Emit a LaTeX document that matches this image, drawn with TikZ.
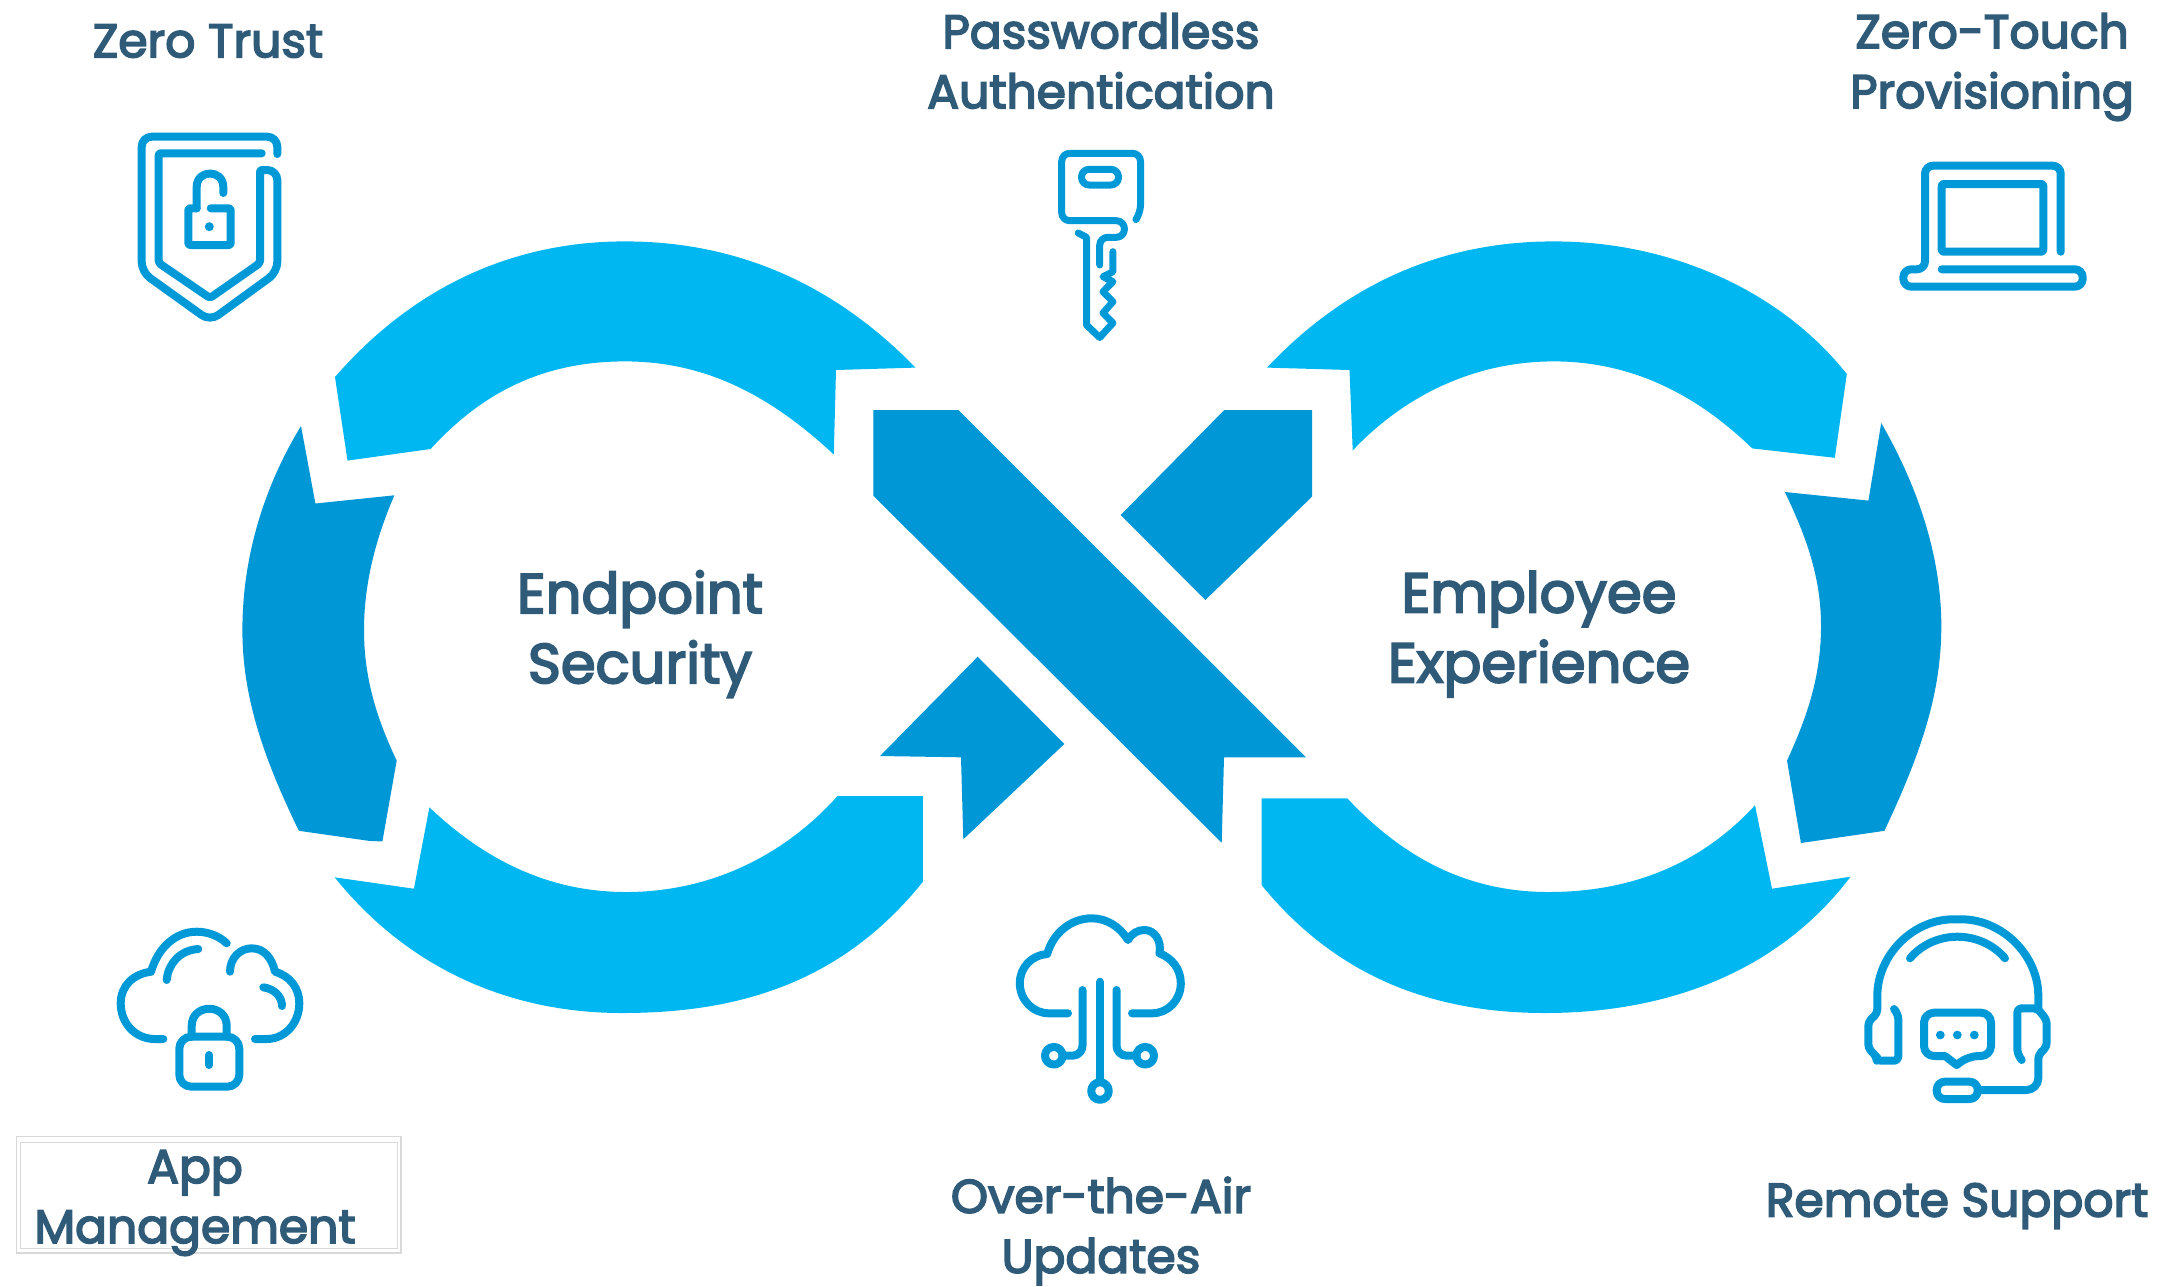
\documentclass[tikz,border=0pt]{standalone}
\usepackage{fontspec}
\setmainfont{Poppins}[FakeBold=3.5]
\definecolor{ringlight}{HTML}{00B7F1}
\definecolor{ringdark}{HTML}{0097D7}
\definecolor{iconblue}{HTML}{0099D8}
\definecolor{labelblue}{HTML}{2F5B78}
\begin{document}
\begin{tikzpicture}[x=0.5pt,y=-0.5pt,
        lightband/.style={fill=ringlight},
        darkband/.style={fill=ringdark},
        icon/.style={draw=iconblue, line width=4pt, line cap=round, line join=round},
        caption/.style={text=labelblue, align=center, inner sep=0pt, font=\fontsize{23.6pt}{30pt}\selectfont},
        heading/.style={text=labelblue, align=center, inner sep=0pt, font=\fontsize{28pt}{35pt}\selectfont}
        ]
    \useasboundingbox (0,0) rectangle (2161,1286);

    % left loop
    \path[lightband] (335,377) .. controls (415,285) and (515,241.4) .. (625,241.4)
        .. controls (745,241.4) and (840,290) .. (915.5,367.6)
        -- (836,370) -- (833.8,454.5)
        .. controls (770,395) and (705,361.4) .. (625,361.4)
        .. controls (540,361.4) and (480,395) .. (430.6,449)
        -- (347.5,460.6) -- cycle;
    \path[darkband] (301,426) -- (315.4,503.5) -- (394.4,495.3)
        .. controls (375,540) and (364,585) .. (364,630)
        .. controls (364,675) and (375,715) .. (396.7,760.6)
        -- (382.4,841.4) -- (370,841) -- (298.9,830.8)
        .. controls (262,755) and (242.4,695) .. (242.4,630)
        .. controls (242.4,555) and (265,485) .. (301,426) -- cycle;
    \path[lightband] (429.4,807.3) -- (413.9,888.7) -- (334.7,877.3)
        .. controls (405,965) and (505,1013) .. (622,1013)
        .. controls (735,1013) and (840,985) .. (922.9,881.7)
        -- (922.9,796) -- (837.6,796)
        .. controls (780,860) and (705,892) .. (626,892)
        .. controls (555,892) and (490,865) .. (429.4,807.3) -- cycle;

    % crossing bands
    \path[darkband] (873.3,410) -- (958.3,410) -- (1306,757.3) -- (1224,757.3) -- (1221.7,842.7) -- (873.3,495.7) -- cycle;
    \path[darkband] (1224.3,410) -- (1312,410) -- (1312,496.7) -- (1205.3,600) -- (1120.7,515) -- cycle;
    \path[darkband] (977.7,656.7) -- (1064.3,744) -- (963.3,839.3) -- (961,757.3) -- (880,756) -- cycle;

    % right loop
    \path[lightband] (1266.9,367.6) -- (1349.5,370) -- (1352.7,450.4)
        .. controls (1405,395) and (1475,361.4) .. (1553.8,361.4)
        .. controls (1630,361.4) and (1695,393) .. (1752.2,448.4)
        -- (1834.8,457.8) -- (1846.8,374)
        .. controls (1780,290) and (1670,241.4) .. (1553.8,241.4)
        .. controls (1440,241.4) and (1345,285) .. (1266.9,367.6) -- cycle;
    \path[darkband] (1881.2,423) -- (1868.4,500.6) -- (1784.8,492)
        .. controls (1808,540) and (1821,580) .. (1821,626)
        .. controls (1821,675) and (1808,715) .. (1787,760.6)
        -- (1800.9,843) -- (1884.4,830.8)
        .. controls (1920,755) and (1941.3,695) .. (1941.3,626)
        .. controls (1941.3,555) and (1917,485) .. (1881.2,423) -- cycle;
    \path[lightband] (1261.5,798.3) -- (1347.3,798.3)
        .. controls (1405,860) and (1470,892) .. (1548.4,892)
        .. controls (1630,892) and (1700,865) .. (1755,805.3)
        -- (1772,888.7) -- (1850.5,876.7)
        .. controls (1780,970) and (1670,1013) .. (1545,1013)
        .. controls (1430,1013) and (1335,975) .. (1261.5,885) -- cycle;

    % shield icon
    \draw[icon, rounded corners=5pt] (277.3,154) -- (277.3,136.7) -- (141.7,136.7) -- (141.7,272) -- (210,321) -- (277.3,272) -- (277.3,170)
        [rounded corners=1pt] -- (260,170) -- (260,263) -- (210,298) -- (158.7,263) -- (158.7,153.3) -- (261.7,153.3);
    \draw[icon, rounded corners=1pt] (196.7,208.3) -- (188.3,208.3) -- (188.3,245) -- (230.7,245) -- (230.7,208.3) -- (210.7,208.3);
    \draw[icon] (196.7,208.3) -- (196.7,187) .. controls (196.7,169) and (223.3,169) .. (223.3,187) -- (223.3,193);
    \fill[iconblue] (209.3,226.7) circle[radius=4.5];

    % key icon
    \draw[icon, line width=3.5pt, rounded corners=4pt] (1137,218) -- (1140.5,213) -- (1140.5,153.3) -- (1061.7,153.3) -- (1061.7,220.7) -- (1124.4,220.7) -- (1124.4,237.3) -- (1099.7,237.3) -- (1099.7,265);
    \draw[icon, line width=3.5pt] (1078.2,233) -- (1086.5,237.3) -- (1086.5,325) -- (1099.7,337.5) -- (1112.9,323) -- (1103,313) -- (1112.9,301.7) -- (1103,291.7) -- (1112.9,281.7) -- (1103,276.7) -- (1112.9,271.7) -- (1112.9,251.7);
    \draw[icon, line width=3.5pt, rounded corners=3.8pt] (1081.5,169.3) rectangle (1118.5,185);

    % laptop icon
    \draw[icon, rounded corners=4pt] (2060.7,251.7) -- (2060.7,165.7) -- (1925,165.7) -- (1925,269.3) -- (1903.3,269.3) -- (1903.3,286.7) -- (2082.7,286.7) -- (2082.7,269.3) -- (1941.7,269.3);
    \draw[icon, rounded corners=1pt] (1941.7,184) rectangle (2043.3,251.7);

    % cloud with padlock
    \draw[icon] (163.3,1039) -- (155,1039) .. controls (135,1039) and (120.7,1023) .. (120.7,1003.3) .. controls (120.7,986) and (133,974) .. (151,971.7) .. controls (158,948) and (175,931.7) .. (196.7,931.7) .. controls (208,931.7) and (219,936) .. (226.7,943.3);
    \draw[icon] (166.7,980) .. controls (168,964) and (180,950) .. (198.3,949);
    \draw[icon] (230,971.7) .. controls (230,958) and (240,948.3) .. (251.7,948.3) .. controls (264,948.3) and (272,958) .. (275,971.7) .. controls (290,976) and (299.3,988) .. (299.3,1003.3) .. controls (299.3,1023) and (285,1039) .. (266.7,1039) -- (255,1039);
    \draw[icon] (263.3,987.3) .. controls (275,989) and (282,997) .. (282,1006);
    \draw[icon, rounded corners=6pt] (179.3,1036.7) rectangle (239.3,1086.7);
    \draw[icon] (191.7,1036.7) -- (191.7,1026) .. controls (191.7,1003) and (226.7,1003) .. (226.7,1026) -- (226.7,1036.7);
    \draw[icon] (209.3,1055) -- (209.3,1065);

    % cloud with circuit lines
    \draw[icon] (1068,1013.3) -- (1049,1013.3) .. controls (1033,1013.3) and (1019.8,1000) .. (1019.8,983.3) .. controls (1019.8,967) and (1032,955) .. (1047.2,954) .. controls (1053,933) and (1071,918.3) .. (1091.7,918.3) .. controls (1107,918.3) and (1120,927) .. (1128,940) .. controls (1132,933) and (1138,930) .. (1144.5,930) .. controls (1154,930) and (1162,940) .. (1159.4,953.3) .. controls (1172,958) and (1180.8,969) .. (1180.8,983.3) .. controls (1180.8,1000) and (1168,1013.3) .. (1152,1013.3) -- (1132,1013.3);
    \draw[icon] (1100,981.7) -- (1100,1082);
    \draw[icon, rounded corners=5pt] (1082.5,990) -- (1082.5,1055.7) -- (1062.5,1055.7);
    \draw[icon, rounded corners=5pt] (1116.5,990) -- (1116.5,1055.7) -- (1136.5,1055.7);
    \foreach \cx/\cy in {1053.8/1055.7, 1145.2/1055.7, 1100/1091} {
        \draw[icon] (\cx,\cy) circle[radius=8.8];
    }

    % headset icon
    \draw[icon, rounded corners=2pt] (1894,1009) -- (1898.3,1015) -- (1898.3,1060.7) -- (1876.7,1060.7) -- (1876.7,1056.7) -- (1868.3,1048.3) -- (1868.3,1021.7) -- (1877.3,1013.3) -- (1877.3,1000) .. controls (1877.3,955) and (1913,919.3) .. (1957.3,919.3) .. controls (2002,919.3) and (2038.3,955) .. (2038.3,1000) -- (2038.3,1008.3);
    \draw[icon, rounded corners=2pt] (2021.7,1060) -- (2017.3,1053.3) -- (2017.3,1008.3) -- (2037.3,1008.3) -- (2046.7,1020) -- (2046.7,1046.7) -- (2038.3,1055) [rounded corners=6pt] -- (2038.3,1090) -- (1980,1090);
    \draw[icon] (1910,958.3) .. controls (1922,944) and (1940,936.7) .. (1957.3,936.7) .. controls (1975,936.7) and (1993,944) .. (2005,958.3);
    \draw[icon, rounded corners=4pt] (1936.7,1081.7) rectangle (1977.7,1099);
    \draw[icon, rounded corners=5pt] (1945,1056) -- (1924,1056) -- (1924,1012.7) -- (1991,1012.7) -- (1991,1056) -- (1968.3,1056) [sharp corners] -- (1956.7,1065) -- cycle;
    \foreach \dx in {1940.3, 1957.3, 1974.3} {
        \fill[iconblue] (\dx,1035) circle[radius=4.4];
    }

    % thin frame round one caption
    \draw[black!15, line width=0.6pt] (16.7,1136.7) rectangle (401,1253);
    \draw[black!15, line width=0.4pt] (20.7,1142.3) rectangle (397.3,1248.3);

    % captions
    \node[caption] (zerotrust) at (208,41) {Zero Trust};
    \node[caption] (passwordless) at (1101,61) {Passwordless\\Authentication};
    \node[caption] (zerotouch) at (1992,67) {Zero-Touch\\Provisioning};
    \node[caption] (appmgmt) at (195,1203) {App\\Management};
    \node[caption] (overtheair) at (1101,1231) {Over-the-Air\\Updates};
    \node[caption] (remote) at (1957,1206) {Remote Support};
    \node[heading] (endpoint) at (640,634) {Endpoint\\Security};
    \node[heading] (employee) at (1539,634) {Employee\\Experience};
\end{tikzpicture}
\end{document}
